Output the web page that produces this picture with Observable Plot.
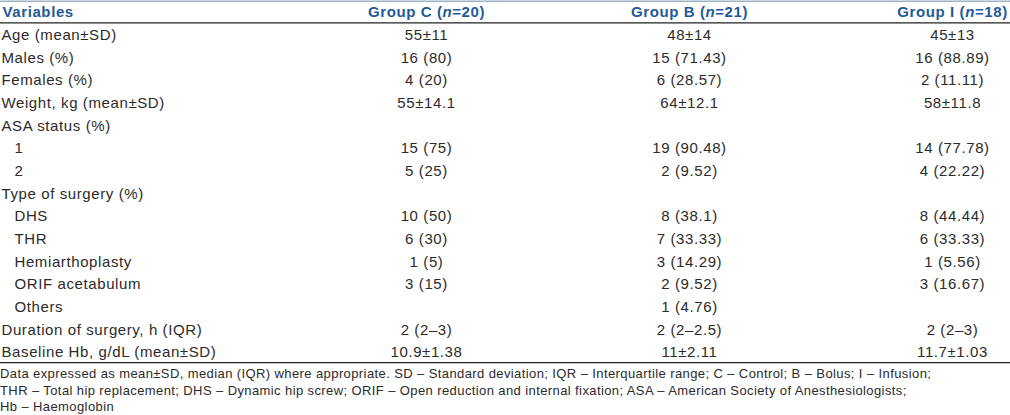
<!DOCTYPE html>
<html>
<head>
<meta charset="utf-8">
<script src="https://cdn.jsdelivr.net/npm/d3@7"></script>
<script src="https://cdn.jsdelivr.net/npm/@observablehq/plot@0.6"></script>
<style>
  html, body { margin: 0; padding: 0; background: #fff; }
  #foot { font-family: "Liberation Sans", Arial, sans-serif; font-size: 13px; line-height: 16.5px; letter-spacing: 0.4px; color: #2b2b2b; white-space: nowrap; padding-top: 2px; }
</style>
</head>
<body>
<div id="chart"></div>
<div id="foot"></div>
<script>
const headerLabel = "Variables";
const groups = ["C", "B", "I"];
const groupN = [20, 21, 18];
const variables = ["Age (mean±SD)", "Males (%)", "Females (%)", "Weight, kg (mean±SD)", "ASA status (%)", "1", "2", "Type of surgery (%)", "DHS", "THR", "Hemiarthoplasty", "ORIF acetabulum", "Others", "Duration of surgery, h (IQR)", "Baseline Hb, g/dL (mean±SD)"];
const level = [0, 0, 0, 0, 0, 1, 1, 0, 1, 1, 1, 1, 1, 0, 0];
const groupC = ["55±11", "16 (80)", "4 (20)", "55±14.1", "", "15 (75)", "5 (25)", "", "10 (50)", "6 (30)", "1 (5)", "3 (15)", "", "2 (2–3)", "10.9±1.38"];
const groupB = ["48±14", "15 (71.43)", "6 (28.57)", "64±12.1", "", "19 (90.48)", "2 (9.52)", "", "8 (38.1)", "7 (33.33)", "3 (14.29)", "2 (9.52)", "1 (4.76)", "2 (2–2.5)", "11±2.11"];
const groupI = ["45±13", "16 (88.89)", "2 (11.11)", "58±11.8", "", "14 (77.78)", "4 (22.22)", "", "8 (44.44)", "6 (33.33)", "1 (5.56)", "3 (16.67)", "", "2 (2–3)", "11.7±1.03"];
const footnotes = [
  "Data expressed as mean±SD, median (IQR) where appropriate. SD – Standard deviation; IQR – Interquartile range; C – Control; B – Bolus; I – Infusion;",
  "THR – Total hip replacement; DHS – Dynamic hip screw; ORIF – Open reduction and internal fixation; ASA – American Society of Anesthesiologists;",
  "Hb – Haemoglobin"
];

// build tables for the library
const rows = variables.map((v, i) => ({row: i + 1, label: v, level: level[i]}));
const cols = [groupC, groupB, groupI];
const cells = [];
groups.forEach((g, j) => cols[j].forEach((v, i) => { if (v) cells.push({group: g, row: i + 1, value: v}); }));
const headers = groups.map((g, j) => ({group: g, label: `Group ${g} (n=${groupN[j]})`}));

const blue = "#1f5b98";
const ink = "#2b2b2b";

const svg = Plot.plot({
  width: 1010,
  height: 364,
  margin: 0,
  style: {fontFamily: '"Liberation Sans", Arial, sans-serif', fontSize: "15px", letterSpacing: "0.6px", color: ink, background: "#fff"},
  x: {type: "point", domain: groups, range: [426, 952], padding: 0, axis: null},
  y: {domain: [0, variables.length], range: [12, 352], axis: null},
  marks: [
    Plot.ruleY([-0.5], {stroke: "#9db0c6", strokeWidth: 1.5}),
    Plot.ruleY([0.46], {stroke: "#222", strokeWidth: 1.2}),
    Plot.ruleY([variables.length + 0.45], {stroke: "#222", strokeWidth: 1.2}),
    Plot.text([headerLabel], {y: () => 0, text: d => d, frameAnchor: "left", textAnchor: "start", dx: 2, fontWeight: "bold", fill: blue}),
    Plot.text(headers, {x: "group", y: () => 0, text: "label", fontWeight: "bold", fill: blue}),
    Plot.text(rows.filter(d => d.level === 0), {y: "row", text: "label", frameAnchor: "left", textAnchor: "start", dx: 1, fill: ink}),
    Plot.text(rows.filter(d => d.level === 1), {y: "row", text: "label", frameAnchor: "left", textAnchor: "start", dx: 14, fill: ink}),
    Plot.text(cells, {x: "group", y: "row", text: "value", fill: ink})
  ]
});

// italic "n" in group headers
d3.select(svg).selectAll("text").each(function () {
  const t = d3.select(this);
  const s = t.text();
  const m = s.match(/^(Group .*\()n(=.*)$/);
  if (!m) return;
  t.text(null);
  t.append("tspan").text(m[1]);
  t.append("tspan").attr("font-style", "italic").text("n");
  t.append("tspan").text(m[2]);
});

document.getElementById("chart").appendChild(svg);
const foot = d3.select("#foot");
footnotes.forEach(f => foot.append("div").text(f));
</script>
</body>
</html>
